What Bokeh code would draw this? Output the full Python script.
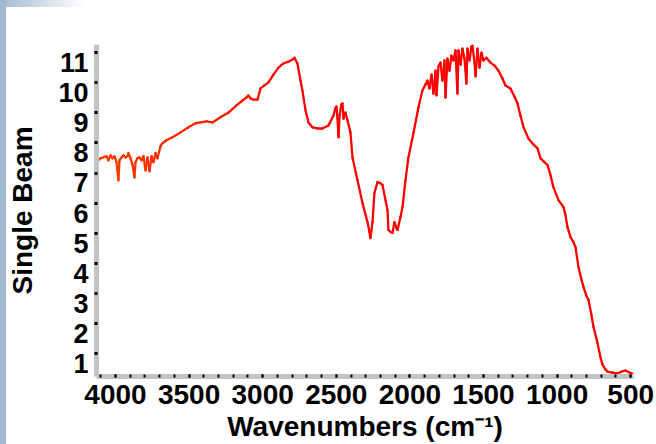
from bokeh.plotting import figure
from bokeh.models import Range1d, FixedTicker, CustomJSTickFormatter, ColumnDataSource
from bokeh.embed import file_html
from bokeh.resources import INLINE

# ---- data ----
wavenumbers = [
    4122, 4102, 4082, 4061, 4048, 4034, 4020, 4007, 3993, 3980, 3973, 3959, 3946, 3932, 3918, 3912,
    3898, 3885, 3871, 3864, 3851, 3837, 3823, 3810, 3796, 3783, 3769, 3755, 3742, 3728, 3715, 3694,
    3681, 3654, 3613, 3558, 3504, 3457, 3423, 3382, 3341, 3287, 3232, 3178, 3137, 3110, 3097, 3083,
    3063, 3035, 3015, 2988, 2961, 2927, 2893, 2859, 2825, 2798, 2784, 2764, 2743, 2730, 2709, 2689,
    2662, 2628, 2594, 2553, 2519, 2506, 2499, 2492, 2485, 2478, 2465, 2458, 2451, 2438, 2424, 2404,
    2390, 2356, 2322, 2288, 2275, 2268, 2261, 2254, 2241, 2220, 2200, 2186, 2166, 2152, 2146, 2132,
    2118, 2105, 2091, 2084, 2064, 2050, 2030, 2010, 1976, 1942, 1915, 1894, 1881, 1867, 1853, 1840,
    1826, 1819, 1806, 1792, 1779, 1765, 1758, 1745, 1731, 1718, 1704, 1690, 1677, 1670, 1656, 1643,
    1629, 1616, 1609, 1595, 1582, 1575, 1561, 1554, 1541, 1527, 1514, 1500, 1480, 1453, 1425, 1398,
    1371, 1351, 1317, 1290, 1269, 1249, 1228, 1195, 1161, 1133, 1113, 1086, 1065, 1045, 1025, 991,
    957, 943, 930, 909, 889, 875, 855, 834, 821, 801, 787, 767, 753, 726, 705, 692,
    671, 658, 624, 590, 563, 536, 508, 488,
]
single_beam = [
    7.39, 7.49, 7.52, 7.56, 7.42, 7.59, 7.49, 7.56, 7.36, 6.76, 7.42, 7.52, 7.59, 7.52, 7.56, 7.66,
    7.49, 7.29, 6.86, 7.36, 7.49, 7.52, 7.42, 7.56, 7.09, 7.52, 7.06, 7.56, 7.36, 7.66, 7.49, 7.89,
    7.99, 8.09, 8.19, 8.35, 8.52, 8.65, 8.68, 8.72, 8.68, 8.85, 9.01, 9.25, 9.41, 9.51, 9.58, 9.48,
    9.44, 9.44, 9.81, 9.91, 10.01, 10.27, 10.50, 10.64, 10.70, 10.77, 10.83, 10.64, 10.07, 9.74, 9.08, 8.68,
    8.52, 8.48, 8.48, 8.58, 8.91, 9.15, 9.21, 8.81, 8.19, 8.91, 9.28, 9.31, 8.81, 9.01, 8.75, 8.35,
    7.52, 6.76, 6.00, 5.37, 5.04, 4.84, 5.11, 5.37, 6.33, 6.70, 6.66, 6.60, 6.10, 5.77, 5.11, 5.04,
    5.01, 5.37, 5.17, 5.11, 5.54, 5.87, 6.76, 7.52, 8.32, 9.18, 9.74, 9.94, 10.07, 9.81, 10.27, 9.64,
    10.40, 9.58, 10.54, 10.67, 10.07, 10.74, 9.51, 10.80, 10.40, 10.90, 10.74, 11.07, 9.64, 11.07, 10.60, 11.13,
    10.80, 9.97, 11.13, 10.74, 11.20, 11.23, 10.67, 10.21, 11.13, 10.50, 11.00, 10.74, 10.83, 10.67, 10.57, 10.40,
    10.14, 9.91, 9.81, 9.54, 9.31, 8.91, 8.52, 8.15, 7.95, 7.82, 7.49, 7.36, 7.26, 6.93, 6.53, 6.10,
    5.87, 5.60, 5.21, 4.87, 4.71, 4.54, 3.88, 3.45, 3.22, 2.92, 2.79, 2.29, 1.89, 1.36, 0.87, 0.64,
    0.47, 0.40, 0.37, 0.34, 0.40, 0.44, 0.37, 0.34,
]
x_tick_labels = [4000, 3500, 3000, 2500, 2000, 1500, 1000, 500]
x_minor_ticks = list(range(4100, 400, -100))
y_tick_labels = [1, 2, 3, 4, 5, 6, 7, 8, 9, 10, 11]

LABEL_SHIFT = 0.33  # tick labels sit a little below their tick marks


def line_colour(w):
    t = min(max((w - 2700) / (4122 - 2700), 0.0), 1.0)
    return "#%02x%02x%02x" % (255, int(round(62 * t)), 0)


src = ColumnDataSource(dict(
    x0=wavenumbers[:-1], x1=wavenumbers[1:],
    y0=single_beam[:-1], y1=single_beam[1:],
    c=[line_colour((a + b) / 2) for a, b in zip(wavenumbers[:-1], wavenumbers[1:])],
))

p = figure(width=656, height=444, output_backend="svg", toolbar_location=None,
           x_range=Range1d(4129, 481), y_range=Range1d(0.24, 11.27),
           min_border_left=96, min_border_right=23, min_border_top=44, min_border_bottom=67)
p.background_fill_color = "white"
p.border_fill_color = None
p.outline_line_color = None
p.grid.visible = False
# decorative slide frame: blue strip on the left, fading band at the top-left
p.styles = {
    "background": (
        "linear-gradient(to right, #a3b8d3 0px, #a3b8d3 6px, rgba(255,255,255,0) 6px), "
        "linear-gradient(to right, #a3b8d3 0px, #ffffff 84px) 0 0 / 84px 7px no-repeat, "
        "#ffffff"
    ),
}

p.segment(x0="x0", y0="y0", x1="x1", y1="y1", color="c", line_width=2.3,
          line_cap="round", source=src)

FONT = "Liberation Sans"

xa = p.xaxis[0]
xa.ticker = FixedTicker(ticks=x_tick_labels, minor_ticks=x_minor_ticks)
xa.axis_line_color = "#c3c3c3"
xa.axis_line_width = 5
for pre in ("major", "minor"):
    setattr(xa, pre + "_tick_line_color", "black")
    setattr(xa, pre + "_tick_line_width", 2)
    setattr(xa, pre + "_tick_in", 2)
    setattr(xa, pre + "_tick_out", 1)
xa.major_label_text_font = FONT
xa.major_label_text_font_size = "28px"
xa.major_label_text_font_style = "bold"
xa.major_label_text_color = "black"
xa.major_label_standoff = 7
xa.axis_label = "Wavenumbers (cm\u207b\u00b9)"
xa.axis_label_text_font = FONT
xa.axis_label_text_font_size = "28px"
xa.axis_label_text_font_style = "bold"
xa.axis_label_text_color = "black"
xa.axis_label_standoff = 4

ya = p.yaxis[0]
ya.ticker = FixedTicker(ticks=[v - LABEL_SHIFT for v in y_tick_labels], minor_ticks=y_tick_labels)
ya.formatter = CustomJSTickFormatter(code="return String(Math.round(tick + %s));" % LABEL_SHIFT)
ya.axis_line_color = "#c3c3c3"
ya.axis_line_width = 5
ya.major_tick_in = 0
ya.major_tick_out = 0
ya.minor_tick_line_color = "black"
ya.minor_tick_line_width = 3
ya.minor_tick_in = 1
ya.minor_tick_out = 2
ya.major_label_text_font = FONT
ya.major_label_text_font_size = "27px"
ya.major_label_text_font_style = "bold"
ya.major_label_text_color = "black"
ya.major_label_standoff = 6
ya.axis_label = "Single Beam"
ya.axis_label_text_font = FONT
ya.axis_label_text_font_size = "28px"
ya.axis_label_text_font_style = "bold"
ya.axis_label_text_color = "black"
ya.axis_label_standoff = 17

open("out.html", "w").write(file_html(p, INLINE))
